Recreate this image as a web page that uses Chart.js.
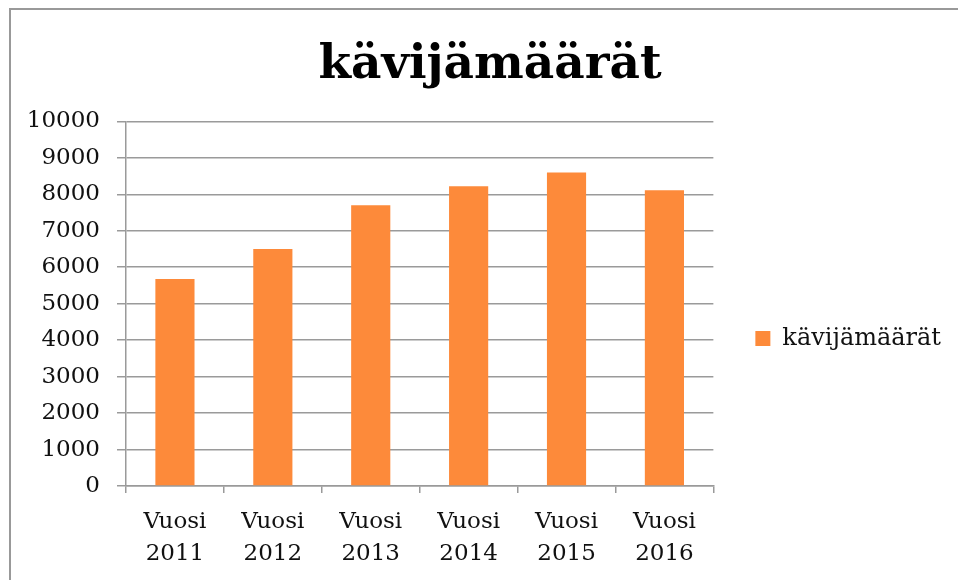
<!DOCTYPE html>
<html>
<head>
<meta charset="utf-8">
<script src="https://cdn.jsdelivr.net/npm/chart.js@4"></script>
<style>
  html, body { margin: 0; padding: 0; background: #fff; }
  #wrap { position: relative; width: 958px; height: 580px; }
</style>
</head>
<body>
<div id="wrap"><canvas id="chart" width="958" height="580"></canvas></div>
<script>
// chart data
const categories = [['Vuosi', '2011'], ['Vuosi', '2012'], ['Vuosi', '2013'], ['Vuosi', '2014'], ['Vuosi', '2015'], ['Vuosi', '2016']];
const visitors = [5680, 6500, 7700, 8220, 8600, 8110];
const seriesName = 'kävijämäärät';
const chartTitle = 'kävijämäärät';

const FONT = "'DejaVu Serif', 'Liberation Serif', serif";
const GRID = '#9a9a9a';

// gray frame of the original chart object (top + left edge)
const framePlugin = {
    id: 'frame',
    beforeDraw(chart) {
        const ctx = chart.ctx;
        ctx.save();
        ctx.fillStyle = '#fff';
        ctx.fillRect(0, 0, chart.width, chart.height);
        ctx.strokeStyle = '#999';
        ctx.lineWidth = 2;
        ctx.beginPath();
        ctx.moveTo(10, chart.height);
        ctx.lineTo(10, 9);
        ctx.lineTo(chart.width, 9);
        ctx.stroke();
        ctx.restore();
    }
};

new Chart(document.getElementById('chart'), {
    type: 'bar',
    data: {
        labels: categories,
        datasets: [{
            label: seriesName,
            data: visitors,
            backgroundColor: '#FD8A3A',
            borderWidth: 0,
            barPercentage: 0.4,
            categoryPercentage: 1.0
        }]
    },
    options: {
        responsive: false,
        animation: false,
        layout: {
            padding: { left: 29, right: 7, top: 22, bottom: 9 }
        },
        plugins: {
            title: {
                display: true,
                text: chartTitle,
                color: '#000',
                font: { family: FONT, size: 47, weight: 'bold' },
                padding: { top: 16, bottom: 27 }
            },
            legend: {
                display: true,
                position: 'right',
                maxWidth: 400,
                // empty title only used to push the item down a bit
                title: {
                    display: true,
                    text: ' ',
                    font: { size: 10, lineHeight: 1.2 },
                    padding: { top: 72, bottom: 0 }
                },
                labels: {
                    color: '#111',
                    font: { family: FONT, size: 24 },
                    boxWidth: 15,
                    boxHeight: 15,
                    padding: 42
                }
            },
            tooltip: { enabled: false }
        },
        scales: {
            x: {
                grid: {
                    drawOnChartArea: false,
                    drawTicks: true,
                    tickLength: 7,
                    color: GRID,
                    lineWidth: 1.5
                },
                border: { color: GRID, width: 1.5 },
                ticks: {
                    color: '#111',
                    font: { family: FONT, size: 23, lineHeight: 1.4 },
                    padding: 13,
                    maxRotation: 0
                },
                afterFit: (scale) => { scale.height = 85; }
            },
            y: {
                min: 0,
                max: 10000,
                grid: {
                    color: GRID,
                    lineWidth: 1.5,
                    tickLength: 9
                },
                border: { color: GRID, width: 1.5 },
                ticks: {
                    stepSize: 1000,
                    color: '#111',
                    font: { family: FONT, size: 23 },
                    padding: 17,
                    callback: (value) => String(value)
                },
                afterFit: (scale) => { scale.width = 97; }
            }
        }
    },
    plugins: [framePlugin]
});
</script>
</body>
</html>
